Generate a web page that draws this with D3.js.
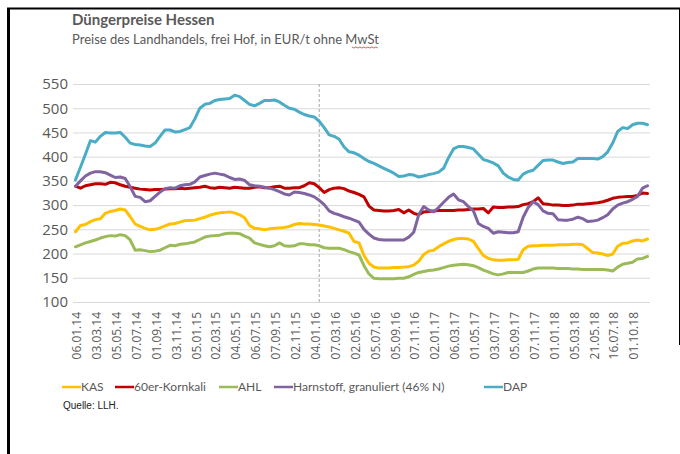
<!DOCTYPE html>
<html>
<head>
<meta charset="utf-8">
<script src="https://cdn.jsdelivr.net/npm/d3@7"></script>
<style>
  body { margin: 0; background: #fff; }
  svg { display: block; }
</style>
</head>
<body>
<div id="chart"></div>
<script>
// tick labels on the category axis (every 4th week-category)
const tickLabels = ["06.01.14", "03.03.14", "05.05.14", "07.07.14", "01.09.14", "03.11.14", "05.01.15",
    "02.03.15", "04.05.15", "06.07.15", "07.09.15", "02.11.15", "04.01.16", "07.03.16", "02.05.16",
    "05.07.16", "05.09.16", "07.11.16", "02.01.17", "06.03.17", "01.05.17", "03.07.17", "05.09.17",
    "07.11.17", "01.01.18", "05.03.18", "21.05.18", "16.07.18", "01.10.18"];
const yTicks = [100, 150, 200, 250, 300, 350, 400, 450, 500, 550];

const kas = [245, 258, 260, 266, 270, 272, 283, 287, 289, 292, 290, 276, 261, 256, 252, 249, 250, 253, 257, 261,
    262, 265, 268, 268, 269, 272, 275, 279, 282, 284, 285, 286, 284, 280, 274, 258, 252, 251, 249, 251,
    252, 253, 254, 256, 260, 262, 261, 261, 260, 259, 257, 255, 252, 249, 246, 242, 225, 222, 196, 180,
    172, 170, 170, 170, 171, 171, 172, 173, 176, 184, 198, 205, 207, 214, 220, 225, 229, 231, 231, 230,
    225, 210, 196, 190, 187, 186, 186, 187, 187, 188, 208, 215, 216, 216, 217, 217, 217, 218, 218, 218,
    219, 219, 218, 210, 202, 201, 199, 196, 199, 215, 221, 222, 226, 228, 226, 230];
const kornkali = [339, 335, 340, 342, 344, 344, 343, 347, 346, 342, 339, 337, 335, 333, 332, 331, 332, 332, 333, 334,
    334, 335, 334, 335, 336, 337, 339, 336, 335, 337, 336, 335, 337, 336, 335, 335, 337, 338, 336, 336,
    338, 339, 335, 335, 336, 336, 340, 346, 344, 336, 326, 332, 335, 336, 334, 329, 326, 322, 317, 298,
    290, 289, 288, 288, 289, 291, 284, 290, 283, 280, 286, 287, 288, 289, 289, 289, 289, 290, 290, 291,
    292, 292, 293, 284, 296, 295, 295, 296, 296, 297, 301, 303, 307, 315, 303, 302, 300, 300, 299, 299,
    300, 302, 302, 303, 304, 305, 307, 310, 314, 316, 317, 318, 318, 320, 325, 324];
const ahl = [214, 218, 222, 225, 228, 232, 235, 237, 236, 239, 237, 228, 207, 208, 206, 204, 205, 207, 212, 217,
    216, 219, 220, 222, 224, 229, 234, 236, 237, 238, 241, 242, 242, 241, 236, 232, 222, 219, 216, 214,
    216, 222, 216, 215, 216, 220, 220, 218, 218, 216, 212, 211, 211, 211, 208, 204, 201, 197, 175, 158,
    149, 148, 148, 148, 148, 149, 149, 152, 157, 161, 163, 165, 166, 168, 171, 174, 176, 177, 178, 177,
    175, 171, 166, 162, 158, 156, 158, 161, 161, 161, 161, 164, 168, 170, 170, 170, 170, 169, 169, 169,
    168, 168, 167, 167, 167, 167, 167, 166, 164, 172, 178, 180, 182, 189, 190, 194];
const harnstoff = [339, 350, 360, 366, 369, 369, 367, 362, 357, 358, 355, 338, 318, 316, 307, 309, 318, 327, 334, 336,
    335, 340, 342, 343, 348, 358, 361, 364, 366, 364, 362, 357, 353, 354, 351, 342, 340, 339, 337, 335,
    332, 328, 323, 321, 327, 326, 324, 321, 317, 310, 301, 288, 283, 280, 276, 273, 269, 265, 250, 240,
    232, 229, 228, 228, 228, 228, 228, 234, 244, 280, 297, 290, 286, 295, 306, 316, 323, 311, 307, 297,
    288, 262, 256, 252, 242, 245, 244, 243, 243, 245, 275, 295, 307, 301, 288, 283, 282, 270, 269, 269,
    271, 275, 272, 266, 267, 269, 274, 280, 292, 300, 304, 307, 312, 318, 335, 340];
const dap = [352, 378, 405, 433, 430, 442, 450, 449, 449, 450, 440, 428, 425, 424, 422, 421, 428, 442, 455, 455,
    451, 452, 456, 460, 478, 500, 508, 510, 516, 518, 519, 520, 527, 524, 516, 508, 505, 510, 516, 516,
    517, 513, 506, 500, 498, 492, 487, 484, 482, 473, 460, 445, 442, 436, 420, 410, 408, 403, 396, 390,
    386, 381, 376, 371, 366, 359, 360, 363, 362, 358, 360, 363, 365, 368, 376, 398, 416, 421, 421, 419,
    416, 405, 394, 391, 387, 381, 366, 358, 353, 352, 364, 369, 372, 382, 392, 393, 393, 389, 386, 388,
    389, 396, 396, 396, 396, 395, 400, 410, 428, 452, 460, 458, 466, 469, 469, 466];

const seriesNames = ["KAS", "60er-Kornkali", "AHL", "Harnstoff, granuliert (46% N)", "DAP"];
const seriesColors = ["#ffc000", "#c00000", "#9bbb59", "#8064a2", "#4bacc6"];
const markerIndex = 49; // dashed vertical marker (mid January 2016)

const series = [kas, kornkali, ahl, harnstoff, dap].map(function (values, i) {
    return {name: seriesNames[i], color: seriesColors[i], values: values};
});

const width = 680;
const height = 454;
const plot = {left: 73, right: 650, top: 84, bottom: 302};

const svg = d3.select("#chart")
              .append("svg")
              .attr("width", width)
              .attr("height", height);

// frame around the screenshot
svg.append("line").attr("x1", 8.5).attr("x2", 8.5).attr("y1", 8).attr("y2", height)
   .attr("stroke", "#000").attr("stroke-width", 3);
svg.append("line").attr("x1", 7).attr("x2", width).attr("y1", 8.5).attr("y2", 8.5)
   .attr("stroke", "#000").attr("stroke-width", 2);
svg.append("line").attr("x1", 679.5).attr("x2", 679.5).attr("y1", 8).attr("y2", 345)
   .attr("stroke", "#000").attr("stroke-width", 1);

// titles
svg.append("text")
   .attr("x", 72).attr("y", 25)
   .style("font-family", "Lato, 'Open Sans', sans-serif")
   .style("font-weight", "bold")
   .style("font-size", "15px")
   .attr("fill", "#595959")
   .text("Düngerpreise Hessen");
const sub = svg.append("text")
   .attr("x", 72).attr("y", 44)
   .style("font-family", "Lato, 'Open Sans', sans-serif")
   .style("font-size", "13px")
   .attr("fill", "#595959")
   .text("Preise des Landhandels, frei Hof, in EUR/t ohne MwSt");

// spell-check squiggle under "MwSt"
const subEnd = 72 + sub.node().getComputedTextLength();
const squiggle = d3.range(subEnd - 27, subEnd, 2).map(function (x, i) {
    return [x, 47 + (i % 2)];
});
svg.append("path")
   .attr("d", d3.line()(squiggle))
   .attr("fill", "none")
   .attr("stroke", "#e03030")
   .attr("stroke-width", 0.8);

const x = d3.scalePoint()
            .domain(d3.range(dap.length))
            .range([plot.left, plot.right])
            .padding(0.5);

const y = d3.scaleLinear()
            .domain([100, 550])
            .range([plot.bottom, plot.top]);

// y axis with gridlines
const yAxis = svg.append("g")
                 .attr("transform", "translate(" + plot.left + ",0)")
                 .call(d3.axisLeft(y)
                         .tickValues(yTicks)
                         .tickSize(-(plot.right - plot.left))
                         .tickPadding(5));
yAxis.select(".domain").remove();
yAxis.selectAll("line").attr("stroke", "#d9d9d9");
yAxis.selectAll("text")
     .attr("fill", "#595959")
     .style("font-family", "'Open Sans', sans-serif")
     .style("font-size", "15px");

// x axis, rotated labels
const xAxis = svg.append("g")
                 .attr("transform", "translate(0," + plot.bottom + ")")
                 .call(d3.axisBottom(x)
                         .tickValues(d3.range(0, dap.length, 4))
                         .tickFormat(function (d) {
                             return tickLabels[d / 4];
                         })
                         .tickSize(0));
xAxis.select(".domain").remove();
xAxis.selectAll("text")
     .attr("transform", "rotate(-90)")
     .attr("x", -10)
     .attr("y", 1)
     .attr("dy", "0.35em")
     .style("text-anchor", "end")
     .attr("fill", "#595959")
     .style("font-family", "'Open Sans', sans-serif")
     .style("font-size", "12px");

// dashed marker line
svg.append("line")
   .attr("x1", x(markerIndex)).attr("x2", x(markerIndex))
   .attr("y1", y(550)).attr("y2", y(100))
   .attr("stroke", "#a6a6a6")
   .attr("stroke-dasharray", "3,2");

const line = d3.line()
               .x(function (d, i) {
                   return x(i);
               })
               .y(function (d) {
                   return y(d);
               });

svg.selectAll("path.series")
   .data(series)
   .enter()
   .append("path")
   .attr("class", "series")
   .attr("d", function (d) {
       return line(d.values);
   })
   .attr("fill", "none")
   .attr("stroke", function (d) {
       return d.color;
   })
   .attr("stroke-width", 3)
   .attr("stroke-linejoin", "round")
   .attr("stroke-linecap", "round");

// legend
const legendX = [62, 115, 219, 274, 484];
const legend = svg.selectAll("g.legend")
                  .data(series)
                  .enter()
                  .append("g")
                  .attr("class", "legend")
                  .attr("transform", function (d, i) {
                      return "translate(" + legendX[i] + ",387)";
                  });
legend.append("line")
      .attr("x1", 0).attr("x2", 19)
      .attr("stroke", function (d) {
          return d.color;
      })
      .attr("stroke-width", 2.5);
legend.append("text")
      .attr("x", 19)
      .attr("dy", "0.35em")
      .attr("fill", "#595959")
      .style("font-family", "Lato, sans-serif")
      .style("font-size", "12px")
      .text(function (d) {
          return d.name;
      });

svg.append("text")
   .attr("x", 63).attr("y", 409)
   .attr("fill", "#222")
   .style("font-family", "'Liberation Sans', Arial, sans-serif")
   .style("font-size", "10px")
   .text("Quelle: LLH.");
</script>
</body>
</html>
